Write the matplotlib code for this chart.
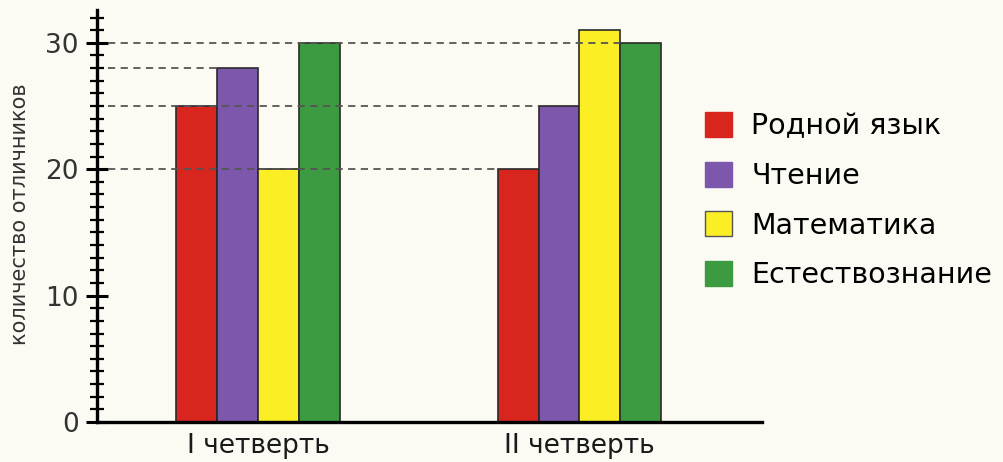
import matplotlib.pyplot as plt
from matplotlib.patches import Patch
from matplotlib.ticker import MultipleLocator
import numpy as np

# data
quarters = ['I четверть', 'II четверть']
subjects = ['Родной язык', 'Чтение', 'Математика', 'Естествознание']
rodnoy = [25, 20]
chtenie = [28, 25]
matematika = [20, 31]
estestvo = [30, 30]
guide_levels = [20, 25, 28, 30]

colors = ['#d8261f', '#7c57ab', '#fbee25', '#3c9b40']
bg = '#fbfaf3'

plt.rcParams['font.family'] = ['DejaVu Sans']

fig = plt.figure(figsize=(10.04, 4.62), dpi=100, facecolor=bg)
ax = fig.add_axes([0.0966, 0.0866, 0.6624, 0.8918], facecolor=bg)

x = np.arange(len(quarters))
w = 0.127
series = [rodnoy, chtenie, matematika, estestvo]
lefts = {}
for i, vals in enumerate(series):
    pos = x + (i - 1.5) * w
    ax.bar(pos, vals, width=w, color=colors[i], edgecolor='#2a2a2a',
           linewidth=1.2, zorder=2)
    for p, v in zip(pos, vals):
        # remember left edge of the rightmost bar with this value
        lefts[v] = max(lefts.get(v, -9), p - w / 2)

ax.set_xlim(-0.5008, 1.568)
ax.set_ylim(0, 32.6)

# dashed guide lines from the axis to the bars
for lev in guide_levels:
    ax.plot([-0.466, lefts[lev]], [lev, lev], ls=(0, (4, 3)), color='#555555',
            lw=1.3, zorder=3)

for s in ['top', 'right']:
    ax.spines[s].set_visible(False)
ax.spines['left'].set_linewidth(2.4)
ax.spines['bottom'].set_linewidth(2.4)
ax.spines['left'].set_zorder(4)
ax.spines['bottom'].set_zorder(4)

ax.yaxis.set_major_locator(MultipleLocator(10))
ax.yaxis.set_minor_locator(MultipleLocator(1))
ax.tick_params(axis='y', which='major', direction='inout', length=16, width=2.2,
               labelsize=19, labelcolor='#333333', pad=5)
ax.tick_params(axis='y', which='minor', direction='inout', length=10, width=1.6)

ax.set_xticks(x)
ax.set_xticklabels(quarters)
ax.tick_params(axis='x', length=0, labelsize=19, pad=8, labelcolor='#1a1a1a')

fig.text(0.02, 0.537, 'количество отличников', rotation=90, ha='center',
         va='center', fontsize=15, color='#333333')

handles = [Patch(facecolor=c, edgecolor='#555555' if c == '#fbee25' else c, lw=1)
           for c in colors]
fig.legend(handles, subjects, loc='upper left', bbox_to_anchor=(0.702, 0.757),
           frameon=False, fontsize=20.5, handlelength=0.97, handleheight=0.97,
           handletextpad=0.66, labelspacing=0.75, borderpad=0, borderaxespad=0)

fig.savefig('out.png', dpi=100, facecolor=bg)
